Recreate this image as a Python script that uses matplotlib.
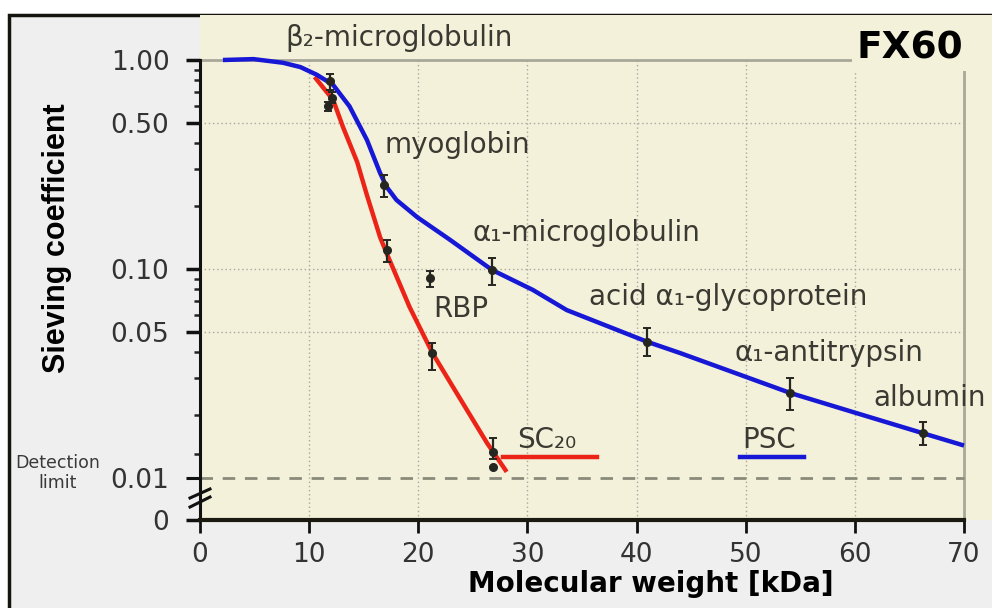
import matplotlib
matplotlib.use("Agg")
import matplotlib.pyplot as plt
from matplotlib.patches import Rectangle
from matplotlib.ticker import NullFormatter

# ---- data -------------------------------------------------------------
# PSC curve (blue): molecular weight [kDa] vs sieving coefficient
psc_mw = [2.1, 4.9, 7.6, 9.2, 10.7, 12.2, 13.7, 15.3, 16.5, 17.1, 18.0,
          19.9, 22.9, 26.75, 30.5, 33.6, 41.0, 44.0, 54.1, 59.8, 66.2, 70.0]
psc_sc = [1.0, 1.01, 0.97, 0.925, 0.85, 0.76, 0.60, 0.414, 0.288, 0.247,
          0.214, 0.177, 0.138, 0.099, 0.0794, 0.0636, 0.0448, 0.0396,
          0.0255, 0.0207, 0.0164, 0.0143]

# SC20 curve (red)
sc20_mw = [10.5, 12.2, 13.1, 14.4, 15.3, 16.5, 17.1, 19.2, 21.3, 23.8,
           26.3, 28.1]
sc20_sc = [0.83, 0.644, 0.478, 0.325, 0.225, 0.142, 0.119, 0.0658,
           0.0396, 0.0241, 0.0147, 0.0107]

# measured points with error ranges
pt_mw = [11.9, 12.1, 11.7, 16.9, 26.75, 40.95, 54.1, 66.2,
         17.1, 21.1, 21.3, 26.85, 26.85]
pt_sc = [0.79, 0.66, 0.60, 0.252, 0.099, 0.0445, 0.0255, 0.0165,
         0.123, 0.0906, 0.0396, 0.0133, 0.0113]
pt_lo = [0.72, 0.62, 0.57, 0.221, 0.0838, 0.0384, 0.0212, 0.0144,
         0.108, 0.082, 0.0329, 0.0123, 0.0113]
pt_hi = [0.86, 0.70, 0.63, 0.282, 0.113, 0.0522, 0.0301, 0.0185,
         0.137, 0.098, 0.0443, 0.0156, 0.0113]

y_ticks = [1.0, 0.5, 0.1, 0.05, 0.01]
y_tick_labels = ["1.00", "0.50", "0.10", "0.05", "0.01"]
y_minor = [0.9, 0.8, 0.7, 0.6, 0.4, 0.3, 0.2, 0.09, 0.08, 0.07, 0.06,
           0.04, 0.03, 0.02, 0.013]
x_ticks = [0, 10, 20, 30, 40, 50, 60, 70]

detection_limit = 0.01

# protein labels: (text, x, y)
protein_labels = [
    ("β₂-microglobulin", 7.8, 1.274),
    ("myoglobin", 16.95, 0.392),
    ("α₁-microglobulin", 25.0, 0.1486),
    ("RBP", 21.35, 0.0644),
    ("acid α₁-glycoprotein", 35.6, 0.0734),
    ("α₁-antitrypsin", 49.0, 0.0396),
    ("albumin", 61.66, 0.0241),
]

# ---- styling ----------------------------------------------------------
YELLOW = "#f3f1da"
PANEL = "#efefef"
BLUE = "#1717d6"
RED = "#ec2418"
GRID = "#a8a8a0"
LABEL = "#3a3a32"

fig = plt.figure(figsize=(9.92, 6.08), dpi=100, facecolor="white")

# framed light-grey panel
fig.add_artist(Rectangle((9 / 992, -0.02), 1.05, (608 - 15) / 608 + 0.02,
                         transform=fig.transFigure, facecolor=PANEL,
                         edgecolor="#151510", lw=2.5, zorder=-5))

ax = fig.add_axes([200 / 992, 88 / 608, 792 / 992, 505 / 608])
ax.set_facecolor(YELLOW)
ax.set_yscale("log")
ybot = 10 ** (-2 - 42 / 209)
ytop = 10 ** (45 / 209)
ax.set_xlim(0, 792 / (764 / 70))
ax.set_ylim(ybot, ytop)

for s in ("top", "right"):
    ax.spines[s].set_visible(False)
ax.spines["left"].set_bounds(ybot, 1.0)
ax.spines["left"].set_linewidth(2.2)
ax.spines["left"].set_color("#111111")
ax.spines["bottom"].set_bounds(0, 70)
ax.spines["bottom"].set_linewidth(3)
ax.spines["bottom"].set_color("#1a1a10")

# ticks
ax.set_yticks(y_ticks + [ybot], y_tick_labels + ["0"])
ax.set_yticks(y_minor, minor=True)
ax.yaxis.set_minor_formatter(NullFormatter())
ax.set_xticks(x_ticks, [str(v) for v in x_ticks])
ax.tick_params(axis="y", which="major", direction="out", length=10,
               width=2.5, pad=12, labelsize=19, labelcolor="#333333",
               color="#111111")
ax.tick_params(axis="y", which="minor", direction="out", length=4,
               width=1.8, color="#222222")
ax.tick_params(axis="x", which="major", direction="out", length=9,
               width=2, pad=7, labelsize=19, labelcolor="#333333",
               color="#111111")
for t in ax.yaxis.get_major_ticks():
    if abs(t.get_loc() - detection_limit) < 1e-9:
        t.tick1line.set_color("#8a8a7a")
        t.tick1line.set_markeredgewidth(2.2)

# dotted grid and grey inner frame
ax.vlines([10, 20, 30, 40, 50, 60], ybot, 1.0, colors=GRID,
          linestyles=(0, (1, 2)), lw=1, zorder=1)
ax.hlines([0.5, 0.1, 0.05], 0, 70, colors=GRID,
          linestyles=(0, (1, 2)), lw=1, zorder=1)
ax.hlines(1.0, 0, 70, colors="#a8a89a", lw=2, zorder=1)
ax.vlines(70, ybot, 1.0, colors="#a8a89a", lw=2, zorder=1)

# detection limit
ax.hlines(detection_limit, 0, 70, colors="#8a8a7a",
          linestyles=(0, (4.5, 3.5)), lw=2, zorder=1)

# axis break marks
for (x0, y0, x1, y1) in [(-0.0126, 0.0436, 0.0126, 0.0614),
                         (-0.0126, 0.0257, 0.0126, 0.0455)]:
    ax.plot([x0, x1], [y0, y1], transform=ax.transAxes, color="#111111",
            lw=2.2, clip_on=False, zorder=5)

# curves
ax.plot(sc20_mw, sc20_sc, color=RED, lw=3.2, solid_capstyle="butt",
        solid_joinstyle="round", zorder=3)
ax.plot(psc_mw, psc_sc, color=BLUE, lw=3.2, solid_capstyle="butt",
        solid_joinstyle="round", zorder=4)

# measured points
yerr = [[v - lo for v, lo in zip(pt_sc, pt_lo)],
        [hi - v for v, hi in zip(pt_sc, pt_hi)]]
ax.errorbar(pt_mw, pt_sc, yerr=yerr, fmt="o", color="#262620", ms=5.5,
            elinewidth=1.6, capsize=3, capthick=1.4, zorder=6)

# labels
for text, x, y in protein_labels:
    ax.text(x, y, text, fontsize=20, color=LABEL, ha="left", va="center",
            zorder=7, clip_on=False)

ax.text(29.05, 0.0152, "SC₂₀", fontsize=20, color=LABEL, ha="left",
        va="center", zorder=7)
ax.plot([27.8, 36.4], [0.0126, 0.0126], color=RED, lw=3.2, zorder=3)
ax.text(49.66, 0.0152, "PSC", fontsize=20, color=LABEL, ha="left",
        va="center", zorder=7)
ax.plot([49.5, 55.3], [0.0126, 0.0126], color=BLUE, lw=3.2, zorder=3)

ax.text(69.9, 1.14, "FX60", fontsize=27, fontweight="bold", color="black",
        ha="right", va="center", zorder=8,
        bbox=dict(boxstyle="square,pad=0.12", facecolor=YELLOW,
                  edgecolor="none"))

# axis titles
fig.text(57 / 992, 1 - 238 / 608, "Sieving coefficient", rotation=90,
         ha="center", va="center", fontsize=22, fontweight="bold",
         family="Liberation Sans", color="black")
fig.text(651 / 992, 1 - 584 / 608, "Molecular weight [kDa]", ha="center",
         va="center", fontsize=20, fontweight="bold", color="black")
fig.text(58 / 992, 1 - 473 / 608, "Detection\nlimit", ha="center",
         va="center", fontsize=12.5, color="#3a3a3a", linespacing=1.15)

fig.savefig("out.png", dpi=100, facecolor=fig.get_facecolor())
